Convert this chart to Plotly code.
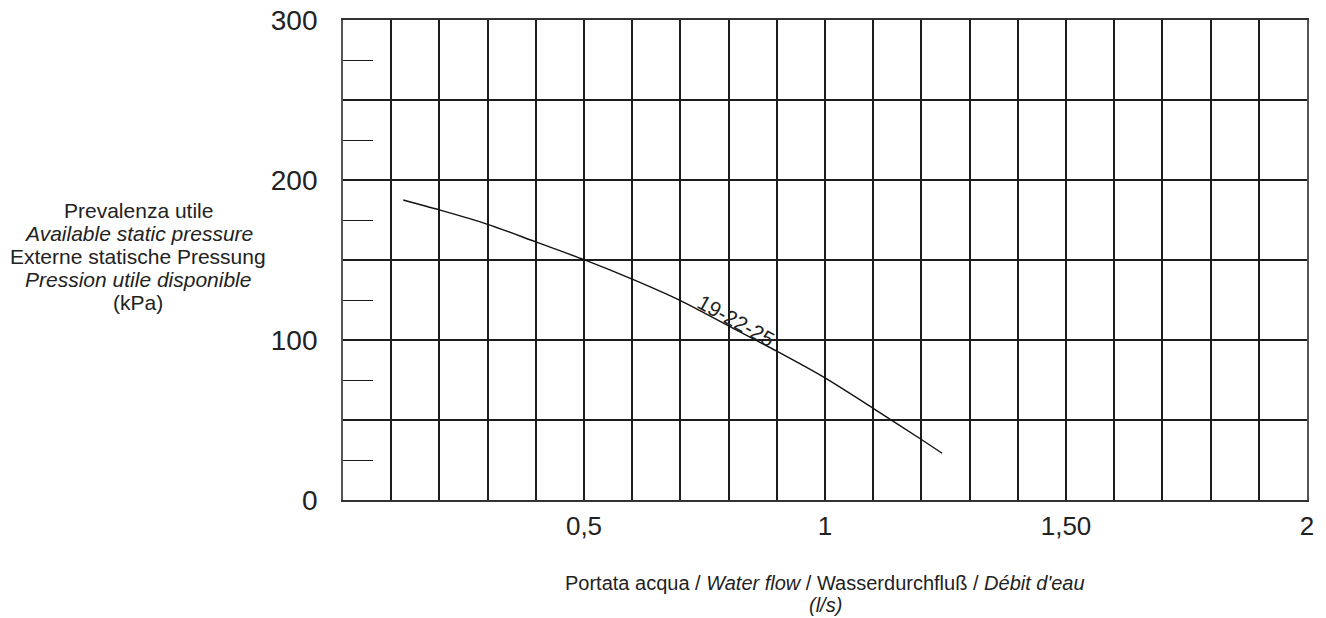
import plotly.graph_objects as go

# Data
flow = [0.125, 0.2, 0.3, 0.4, 0.5, 0.6, 0.7, 0.8, 0.9, 1.0, 1.1, 1.2, 1.243]
pressure = [187.5, 181.3, 172.3, 161.3, 150.2, 138.0, 124.6, 108.8, 93.0, 76.3, 57.3, 37.8, 29.2]
curve_label = "19-22-25"

x_grid = [round(i * 0.1, 1) for i in range(21)]
x_labels = {0.5: "0,5", 1.0: "1", 1.5: "1,50", 2.0: "2"}
x_ticktext = [x_labels.get(v, "") for v in x_grid]

y_grid = [0, 50, 100, 150, 200, 250, 300]
y_labels = {0: "0", 100: "100", 200: "200", 300: "300"}
y_ticktext = [y_labels.get(v, "") for v in y_grid]

y_title_lines = [
    ("Prevalenza utile", False),
    ("Available static pressure", True),
    ("Externe statische Pressung", False),
    ("Pression utile disponible", True),
    ("(kPa)", False),
]
x_title_line1 = "Portata acqua / <i>Water flow</i> / Wasserdurchfluß / <i>Débit d'eau</i>"
x_title_line2 = "<i>(l/s)</i>"

FONT = "Liberation Sans, Arial, Helvetica, sans-serif"
NARROW = "Liberation Sans Narrow, Arial Narrow, Liberation Sans, sans-serif"
INK = "#222222"
GRID = "#1c1c1c"

fig = go.Figure()
fig.add_trace(go.Scatter(
    x=flow, y=pressure, mode="lines",
    line=dict(color="#111111", width=1.4, shape="spline", smoothing=0.8),
    hoverinfo="skip", showlegend=False,
))

fig.add_annotation(
    x=0.815, y=112, xref="x", yref="y", text=curve_label, showarrow=False,
    textangle=29, font=dict(family=FONT, size=21, color=INK),
)

# Y-axis title lines
y0 = 210
for i, (txt, ital) in enumerate(y_title_lines):
    ypix = y0 + 23 * i
    fig.add_annotation(
        x=-0.2125, y=(500 - ypix) / 480, xref="paper", yref="paper",
        xanchor="center", yanchor="middle", showarrow=False,
        text=f"<i>{txt}</i>" if ital else txt,
        font=dict(family=FONT, size=21, color=INK),
    )

fig.add_annotation(
    x=0.5, y=(500 - 583) / 480, xref="paper", yref="paper",
    xanchor="center", yanchor="middle", showarrow=False,
    text=x_title_line1, font=dict(family=FONT, size=20, color=INK),
)
fig.add_annotation(
    x=0.5, y=(500 - 605) / 480, xref="paper", yref="paper",
    xanchor="center", yanchor="middle", showarrow=False,
    text=x_title_line2, font=dict(family=FONT, size=20, color=INK),
)

fig.update_xaxes(
    range=[0, 2], tickmode="array", tickvals=x_grid, ticktext=x_ticktext,
    showgrid=True, gridcolor=GRID, gridwidth=1.5,
    showline=True, linecolor="#333333", linewidth=1.6, mirror=True,
    zeroline=False, ticks="", ticklabelstandoff=2, automargin=False,
    tickfont=dict(family=NARROW, size=26, color=INK),
)
fig.update_yaxes(
    range=[0, 300], tickmode="array", tickvals=y_grid, ticktext=y_ticktext,
    showgrid=True, gridcolor=GRID, gridwidth=1.5,
    showline=True, linecolor="#555555", linewidth=1.8, mirror=True,
    zeroline=False, ticks="", ticklabelstandoff=18, automargin=False,
    tickfont=dict(family=FONT, size=28, color=INK),
    minor=dict(tickmode="linear", tick0=25, dtick=50, ticks="inside",
               ticklen=30, tickwidth=1.4, tickcolor=GRID, showgrid=False),
)

fig.update_layout(
    width=1326, height=618,
    margin=dict(l=343, r=19, t=20, b=118, autoexpand=False),
    paper_bgcolor="white", plot_bgcolor="white",
    showlegend=False,
)

fig.write_html(
    "out.html",
    config={"displayModeBar": False},
    post_script="document.body.style.margin='0';document.body.style.padding='0';"
                "document.body.style.overflow='hidden';",
)
